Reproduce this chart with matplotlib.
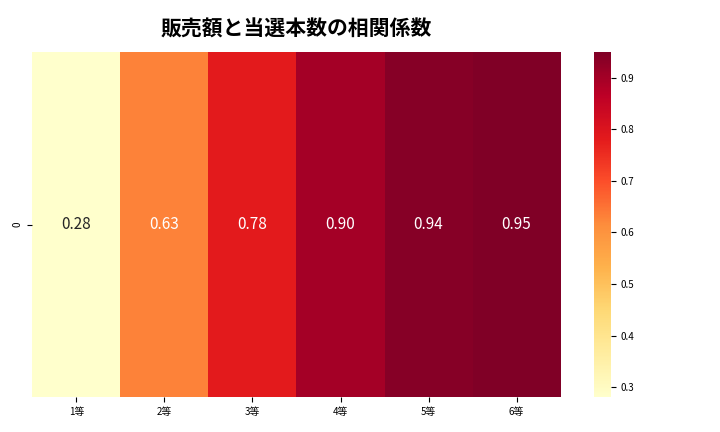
import numpy as np
import matplotlib
matplotlib.use("Agg")
import matplotlib.pyplot as plt
import seaborn as sns

plt.rcParams['font.family'] = ['Noto Sans CJK JP', 'DejaVu Sans']

prizes = ['1等', '2等', '3等', '4等', '5等', '6等']
corr = [0.28, 0.63, 0.78, 0.90, 0.94, 0.95]

fig, ax = plt.subplots(figsize=(7.2, 4.32), dpi=100)
sns.heatmap(np.array([corr]), annot=True, fmt='.2f', cmap='YlOrRd',
            xticklabels=prizes, yticklabels=['0'], ax=ax,
            annot_kws={'size': 11})
ax.set_title('販売額と当選本数の相関係数', fontsize=15, fontweight='bold', pad=12)
ax.tick_params(labelsize=7)
fig.axes[-1].tick_params(labelsize=7)
fig.subplots_adjust(left=0.045, right=0.962, top=0.88, bottom=0.08)
fig.savefig('out.png')
